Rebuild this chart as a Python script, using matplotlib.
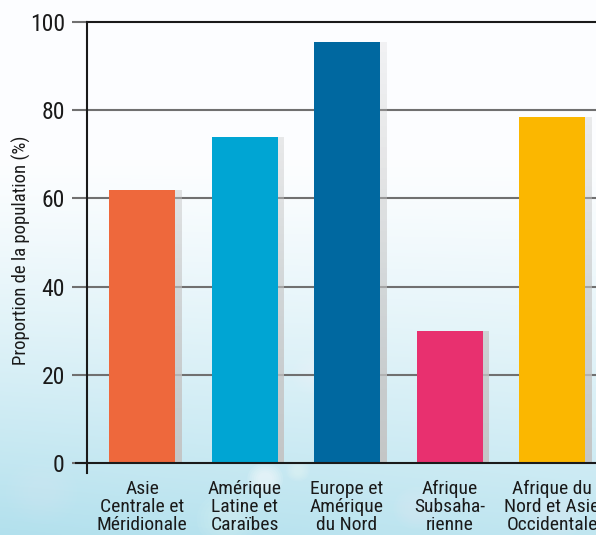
import numpy as np
import matplotlib
matplotlib.use("Agg")
import matplotlib.pyplot as plt
from matplotlib import font_manager as fm

categories = ["Asie\nCentrale et\nMéridionale", "Amérique\nLatine et\nCaraïbes",
              "Europe et\nAmérique\ndu Nord", "Afrique\nSubsaha-\nrienne",
              "Afrique du\nNord et Asie\nOccidentale"]
values = [62, 74, 95.5, 30, 78.5]
colors = ["#ee683c", "#00a5d3", "#0068a0", "#e8306f", "#fbb700"]
yticks = [0, 20, 40, 60, 80, 100]
ylabel = "Proportion de la population (%)"

names = {f.name for f in fm.fontManager.ttflist}
fam = ["Liberation Sans Narrow", "Roboto Condensed", "Roboto", "DejaVu Sans"]
fam = [f for f in fam if f in names] + ["DejaVu Sans"]
plt.rcParams["font.family"] = fam

W, H = 596, 535
fig = plt.figure(figsize=(W / 100, H / 100), dpi=100)

# background gradient
bg = fig.add_axes([0, 0, 1, 1], zorder=0)
bg.set_axis_off()
yy = np.linspace(0, 1, 300)[:, None]
xx = np.linspace(0, 1, 300)[None, :]
t = np.clip((yy - 0.3) / 0.7, 0, 1) ** 1.2
t = t * (0.8 + 0.2 * (1 - xx))
top = np.array([0.99, 0.995, 1.0])
bot = np.array([0.70, 0.88, 0.93])
img = top[None, None, :] * (1 - t[..., None]) + bot[None, None, :] * t[..., None]
bg.imshow(img, extent=[0, 1, 0, 1], origin="upper", aspect="auto")
for (cx, cy, r, a) in [(0.445, 0.105, 0.03, 0.7), (0.50, 0.12, 0.02, 0.35),
                       (0.38, 0.03, 0.05, 0.25), (0.70, 0.05, 0.04, 0.2),
                       (0.07, 0.08, 0.06, 0.15), (0.93, 0.04, 0.05, 0.2),
                       (0.53, 0.30, 0.04, 0.25)]:
    for k in range(6):
        bg.add_patch(plt.Circle((cx, cy), r * (1 - k * 0.12), color="white",
                                alpha=a / 6, transform=bg.transAxes, lw=0))
bg.set_xlim(0, 1)
bg.set_ylim(0, 1)

ax = fig.add_axes([87 / W, (H - 463) / H, 1 - 87 / W, (463 - 22) / H], zorder=1)
ax.patch.set_alpha(0)
x = np.arange(len(categories))
bw = 0.644
sh = 0.065
nseg = 40
for i, v in enumerate(values):
    edges = np.linspace(0, v, nseg + 1)
    for j in range(nseg):
        mid = (edges[j] + edges[j + 1]) / 2
        a = max(0.15, 0.95 - 0.8 * mid / 100)
        ax.bar(x[i] + bw / 2 + sh / 2, edges[j + 1] - edges[j], bottom=edges[j],
               width=sh, color="#c4c4c4", alpha=a, zorder=2, lw=0)
ax.bar(x, values, width=bw, color=colors, zorder=3, lw=0)

ax.set_xlim(-0.537, (W - 142) / 102.5)
ax.set_ylim(0, 100)
ax.set_yticks(yticks)
ax.set_yticklabels([str(v) for v in yticks], fontsize=17, color="#1a1a1a")
for v in yticks[1:-1]:
    ax.axhline(v, color="#707070", lw=1.5, zorder=1)
ax.axhline(100, color="#1a1a1a", lw=1.5, zorder=1, clip_on=False)
ax.tick_params(axis="y", length=11, width=1.5, color="#707070", pad=5)
ax.set_xticks(x)
ax.set_xticklabels(categories, fontsize=14, color="#1a1a1a", linespacing=1.0)
ax.tick_params(axis="x", length=0, pad=12)
for s in ["top", "right"]:
    ax.spines[s].set_visible(False)
ax.spines["left"].set_color("#1a1a1a")
ax.spines["bottom"].set_color("#1a1a1a")
ax.spines["left"].set_linewidth(1.5)
ax.spines["bottom"].set_linewidth(1.5)
ax.spines["left"].set_bounds(-2.2, 100)
ax.spines["bottom"].set_zorder(4)
ax.plot([-0.537 - 11 / 102.5, -0.537], [0, 0], color="#1a1a1a", lw=1.5, clip_on=False, zorder=4)
ax.set_ylabel(ylabel, fontsize=13.5, color="#1a1a1a")
ax.yaxis.set_label_coords((31 - 87) / (W - 87), (463 - 250) / 441)

fig.savefig("out.png", dpi=100)
